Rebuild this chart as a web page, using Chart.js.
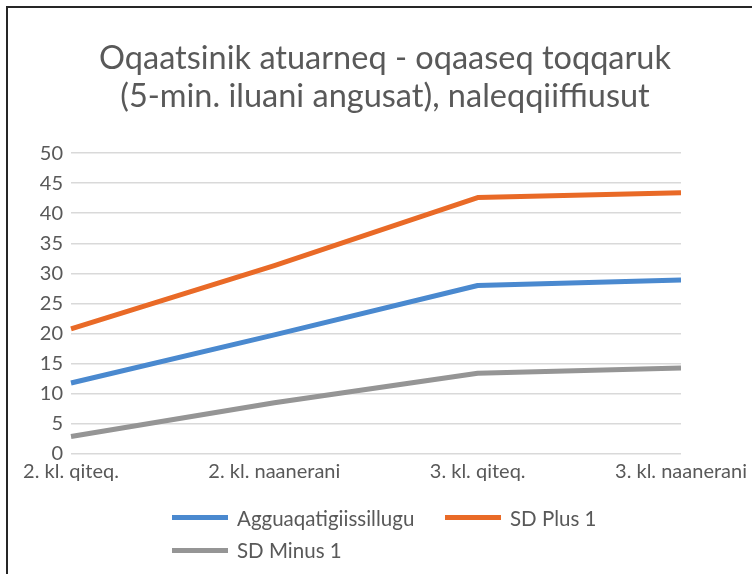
<!DOCTYPE html>
<html>
<head>
<meta charset="utf-8">
<script src="https://cdn.jsdelivr.net/npm/chart.js@4.4.1/dist/chart.umd.min.js"></script>
<style>
  html, body { margin: 0; padding: 0; background: #ffffff; overflow: hidden; }
  #wrap { position: relative; width: 752px; height: 574px; overflow: hidden; background: #fff; }
  #frame { position: absolute; left: 6px; top: 6px; width: 900px; height: 800px; border: 2px solid #262626; box-sizing: border-box; }
  #c { position: absolute; left: 0; top: 0; }
  #legend { position: absolute; left: 0; top: 0; width: 752px; height: 574px; font-family: Lato, "Noto Sans", sans-serif; font-size: 20.5px; color: #595959; }
  .item { position: absolute; display: flex; align-items: center; height: 32px; white-space: nowrap; }
  .swatch { width: 56px; height: 5px; margin-right: 9px; }
</style>
</head>
<body>
<div id="wrap">
  <div id="frame"></div>
  <canvas id="c" width="752" height="574"></canvas>
  <div id="legend"></div>
</div>
<script>
const titleLines = ['Oqaatsinik atuarneq - oqaaseq toqqaruk', '(5-min. iluani angusat), naleqqiiffiusut'];
const categories = ['2. kl. qiteq.', '2. kl. naanerani', '3. kl. qiteq.', '3. kl. naanerani'];
const seriesNames = ['Agguaqatigiissillugu', 'SD Plus 1', 'SD Minus 1'];
const avgValues = [11.8, 19.8, 28.0, 28.9];
const plusValues = [20.8, 31.3, 42.6, 43.4];
const minusValues = [2.9, 8.5, 13.4, 14.3];
const yTicks = { min: 0, max: 50, step: 5 };
const colors = ['#4a89cf', '#e96a27', '#959595'];

const textColor = '#595959';
const fontFamily = 'Lato, "Noto Sans", sans-serif';

const datasets = [avgValues, plusValues, minusValues].map((vals, i) => ({
  label: seriesNames[i],
  data: vals,
  borderColor: colors[i],
  backgroundColor: colors[i],
  borderWidth: 5,
  pointRadius: 0,
  pointHoverRadius: 0,
  tension: 0,
  fill: false,
  borderCapStyle: 'butt',
  borderJoinStyle: 'round'
}));

new Chart(document.getElementById('c'), {
  type: 'line',
  data: { labels: categories, datasets: datasets },
  options: {
    responsive: false,
    animation: false,
    devicePixelRatio: 1,
    layout: { padding: { left: 18, right: 0, top: 0, bottom: 80 } },
    plugins: {
      legend: { display: false },
      tooltip: { enabled: false },
      title: {
        display: true,
        text: titleLines,
        color: textColor,
        font: { family: fontFamily, size: 32.5, weight: 'normal', lineHeight: 1.17 },
        padding: { top: 39.3, bottom: 37.7 }
      }
    },
    scales: {
      x: {
        offset: false,
        grid: { display: false, drawTicks: false },
        border: { display: false },
        ticks: {
          color: textColor,
          font: { family: fontFamily, size: 20 },
          padding: 6,
          maxRotation: 0,
          autoSkip: false
        },
        afterFit: (s) => { s.paddingLeft = 0; s.paddingRight = 71; s.height = 40; }
      },
      y: {
        min: yTicks.min,
        max: yTicks.max,
        grid: { color: '#d9d9d9', lineWidth: 1.5, drawTicks: false },
        border: { display: false },
        ticks: {
          stepSize: yTicks.step,
          color: textColor,
          font: { family: fontFamily, size: 20 },
          padding: 8
        },
        afterFit: (s) => { s.width = 53; s.paddingTop = 0; s.paddingBottom = 0; }
      }
    }
  }
});

// HTML legend built from the datasets
const legendPos = [
  { left: 172, top: 501.7 },
  { left: 445, top: 501.7 },
  { left: 172, top: 534 }
];
const legend = document.getElementById('legend');
datasets.forEach((ds, i) => {
  const item = document.createElement('div');
  item.className = 'item';
  item.style.left = legendPos[i].left + 'px';
  item.style.top = legendPos[i].top + 'px';
  const sw = document.createElement('span');
  sw.className = 'swatch';
  sw.style.background = ds.borderColor;
  const tx = document.createElement('span');
  tx.textContent = ds.label;
  item.appendChild(sw);
  item.appendChild(tx);
  legend.appendChild(item);
});
</script>
</body>
</html>
